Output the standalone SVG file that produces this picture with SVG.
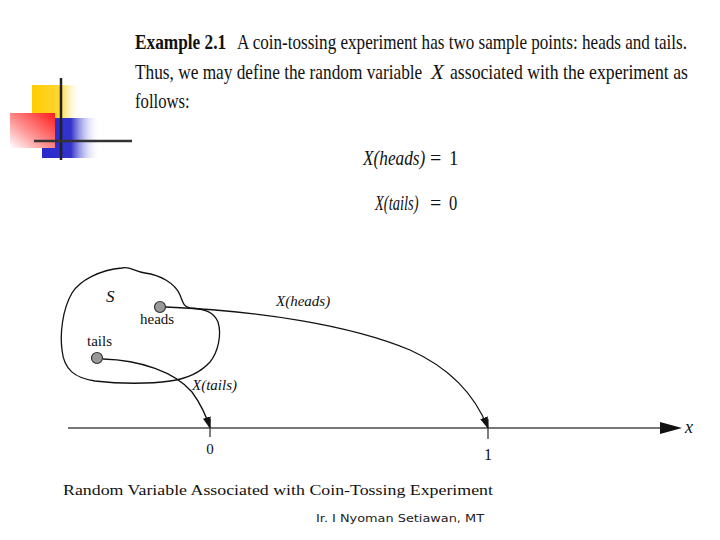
<svg xmlns="http://www.w3.org/2000/svg" width="720" height="540" viewBox="0 0 720 540">
<style>
.t{font-family:"Liberation Serif","Times New Roman",serif;fill:#111}
.i{font-style:italic}
.b{font-weight:bold}
.ln{fill:none;stroke:#111;stroke-width:1.3}
</style>
<defs>
<linearGradient id="gy" x1="0" x2="1" y1="0" y2="0"><stop offset="0" stop-color="#ffcc00"/><stop offset="0.55" stop-color="#ffd633"/><stop offset="1" stop-color="#fff" stop-opacity="0"/></linearGradient>
<linearGradient id="gb" x1="0" x2="1" y1="0" y2="0"><stop offset="0" stop-color="#2a2acc"/><stop offset="0.5" stop-color="#3333cc"/><stop offset="1" stop-color="#fff" stop-opacity="0"/></linearGradient>
<linearGradient id="gr" x1="1" x2="0" y1="0" y2="1"><stop offset="0" stop-color="#ff1a1a"/><stop offset="0.6" stop-color="#ff9a9a"/><stop offset="1" stop-color="#fff"/></linearGradient>
<marker id="ah" markerWidth="12" markerHeight="8" refX="11" refY="4" orient="auto" markerUnits="userSpaceOnUse"><path d="M0,0 L12,4 L0,8 Z" fill="#111"/></marker>
</defs>
<rect width="720" height="540" fill="#fff"/>
<g id="deco">
<rect x="32" y="85" width="50" height="35" fill="url(#gy)"/>
<rect x="42" y="118" width="58" height="40" fill="url(#gb)"/>
<rect x="10" y="113" width="45" height="35" fill="url(#gr)"/>
<line x1="61" y1="78" x2="61" y2="160" stroke="#222" stroke-width="2.5"/>
<line x1="34" y1="141" x2="132" y2="141" stroke="#333" stroke-width="2.5"/>
</g>
<g id="title">
<text class="t b" transform="translate(135,49) scale(0.8,1)" x="0" y="0" font-size="21" textLength="114" lengthAdjust="spacingAndGlyphs">Example 2.1</text>
<text class="t" transform="translate(237,49) scale(0.76,1)" x="0" y="0" font-size="21" textLength="592" lengthAdjust="spacingAndGlyphs">A coin-tossing experiment has two sample points: heads and tails.</text>
<text class="t" transform="translate(135,79) scale(0.76,1)" x="0" y="0" font-size="21" textLength="378" lengthAdjust="spacingAndGlyphs">Thus, we may define the random variable</text>
<text class="t i" x="431" y="79" font-size="21">X</text>
<text class="t" transform="translate(450,79) scale(0.76,1)" x="0" y="0" font-size="21" textLength="313" lengthAdjust="spacingAndGlyphs">associated with the experiment as</text>
<text class="t" transform="translate(135,108) scale(0.76,1)" x="0" y="0" font-size="21" textLength="72" lengthAdjust="spacingAndGlyphs">follows:</text>
</g>
<g id="eqs">
<text class="t i" transform="translate(363,165) scale(0.82,1)" x="0" y="0" font-size="22" textLength="76" lengthAdjust="spacingAndGlyphs">X(heads)</text>
<text class="t" x="430" y="165" font-size="20">=</text>
<text class="t" transform="translate(449,165) scale(0.85,1)" x="0" y="0" font-size="22">1</text>
<text class="t i" transform="translate(375,210) scale(0.82,1)" x="0" y="0" font-size="22" textLength="53" lengthAdjust="spacingAndGlyphs">X(tails)</text>
<text class="t" x="430" y="210" font-size="20">=</text>
<text class="t" transform="translate(449,210) scale(0.75,1)" x="0" y="0" font-size="22">0</text>
</g>
<g id="S">
<path class="ln" d="M72,293 C80,280 100,270 122,268 C130,266 135,272 145,273 C160,275 175,283 180,295 C183,303 184,307 190,308 C205,309 214,312 218,322 C222,335 218,352 210,362 C200,373 185,379 170,381 C150,384 120,384 95,381 C75,378 64,370 62,350 C60,335 62,310 72,293 Z"/>
<text class="t i" x="106" y="302" font-size="17">S</text>
</g>
<g id="heads">
<circle cx="160" cy="307" r="5.5" fill="#999" stroke="#333" stroke-width="1.2"/>
<text class="t" x="140" y="324" font-size="15">heads</text>
</g>
<g id="tails">
<circle cx="97" cy="358" r="5.5" fill="#999" stroke="#333" stroke-width="1.2"/>
<text class="t" x="87" y="346" font-size="15">tails</text>
</g>
<g id="axis">
<line x1="68" y1="428" x2="662" y2="428" stroke="#777" stroke-width="2"/>
<path d="M660,422 L682,428 L660,434 Z" fill="#111"/>
<text class="t i" x="685" y="433" font-size="18">x</text>
<line x1="210" y1="419" x2="210" y2="437" stroke="#555" stroke-width="1.5"/>
<line x1="488" y1="419" x2="488" y2="439" stroke="#555" stroke-width="1.5"/>
<text class="t" x="210" y="454" font-size="15" text-anchor="middle">0</text>
<text class="t" x="488" y="460" font-size="16" text-anchor="middle">1</text>
</g>
<g id="connectors">
<path class="ln" d="M103,359 C140,360 175,372 192,392 C200,403 206,415 210,428" marker-end="url(#ah)"/>
<path class="ln" d="M166,307 C260,311 350,325 410,350 C450,368 475,395 488,428" marker-end="url(#ah)"/>
<text class="t i" x="192" y="390" font-size="15">X(tails)</text>
<text class="t i" x="276" y="306" font-size="15">X(heads)</text>
</g>
<text class="t" x="63" y="495" font-size="15" textLength="430" lengthAdjust="spacingAndGlyphs">Random Variable Associated with Coin-Tossing Experiment</text>
<text x="316" y="522" font-family="DejaVu Sans,Verdana,sans-serif" font-size="11" fill="#222" textLength="168" lengthAdjust="spacingAndGlyphs">Ir. I Nyoman Setiawan, MT</text>
</svg>
